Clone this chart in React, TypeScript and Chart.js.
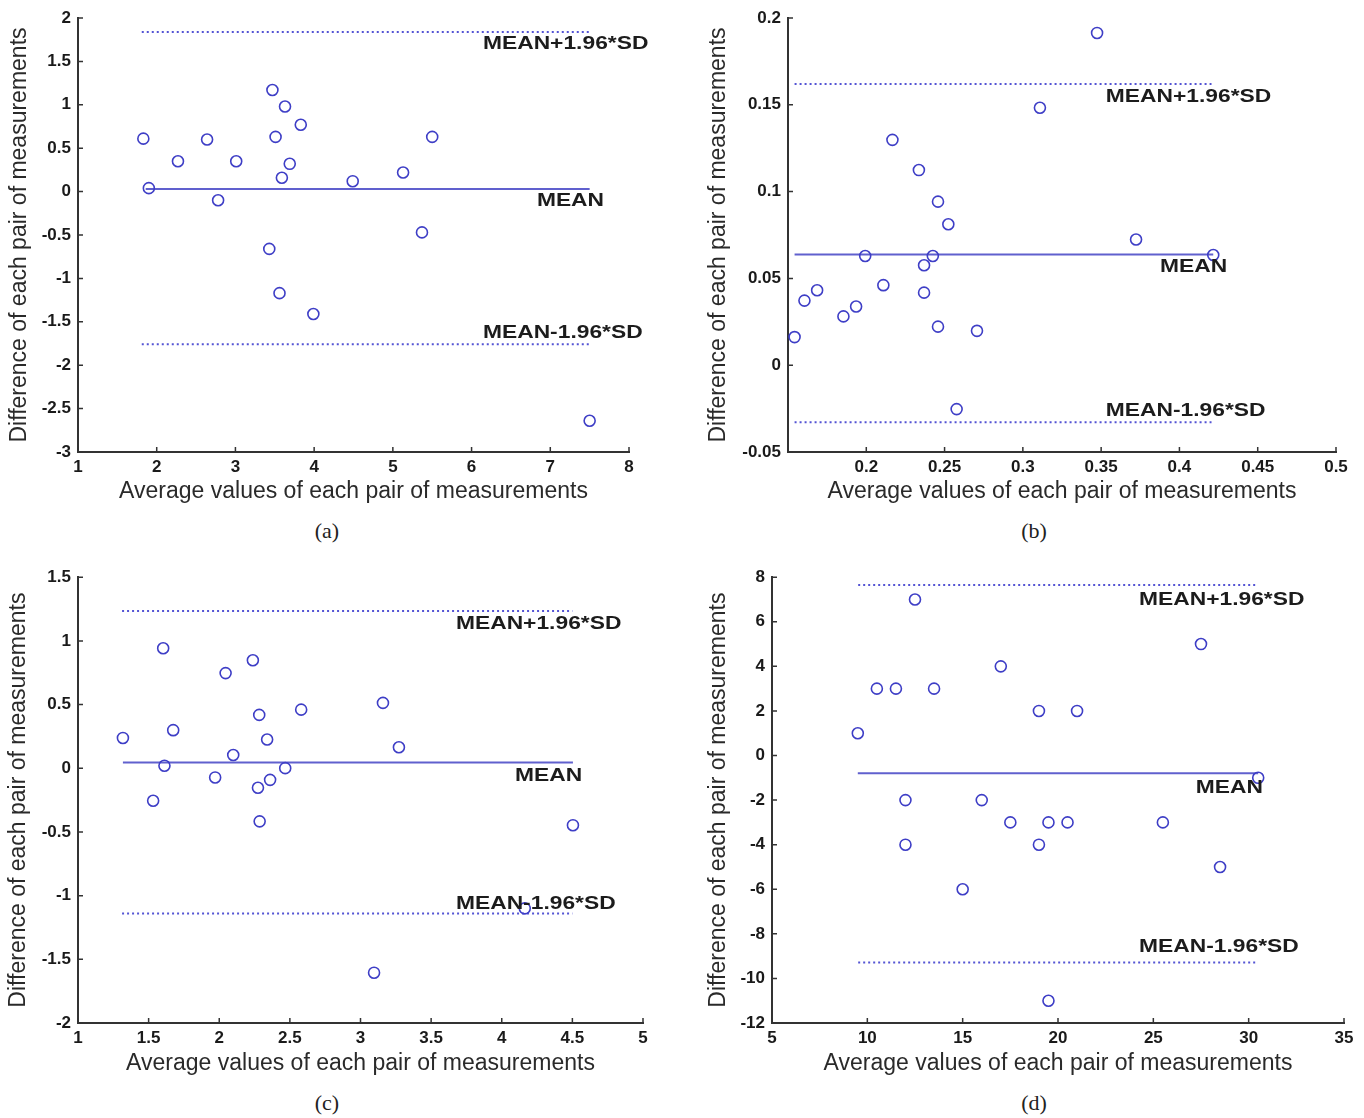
import React, { useEffect, useRef } from "react";
import { Chart, registerables } from "chart.js";

Chart.register(...registerables);

// ---------- shared text ----------
const xTitle = "Average values of each pair of measurements";
const yTitle = "Difference of each pair of measurements";
const limitLabels = ["MEAN+1.96*SD", "MEAN", "MEAN-1.96*SD"];
const captions = ["(a)", "(b)", "(c)", "(d)"];

// ---------- panel (a) ----------
const xA = [1.83, 1.9, 2.27, 2.64, 2.78, 3.01, 3.47, 3.51, 3.43, 3.63, 3.59, 3.69, 3.56, 3.83, 3.99, 4.49, 5.13, 5.37, 5.5, 7.5];
const yA = [0.61, 0.04, 0.35, 0.6, -0.1, 0.35, 1.17, 0.63, -0.66, 0.98, 0.16, 0.32, -1.17, 0.77, -1.41, 0.12, 0.22, -0.47, 0.63, -2.64];
const limitsA = [1.84, 0.03, -1.76]; // upper, mean, lower
const meanSpanA = [1.86, 7.5];
const limitSpanA = [1.81, 7.5];
const xTicksA = [1, 2, 3, 4, 5, 6, 7, 8];
const yTicksA = [-3, -2.5, -2, -1.5, -1, -0.5, 0, 0.5, 1, 1.5, 2];
const anchorsA = [[6.145, 1.7], [6.83, -0.108], [6.145, -1.63]];

// ---------- panel (b) ----------
const xB = [0.1542, 0.1605, 0.1686, 0.1854, 0.1935, 0.1993, 0.2109, 0.2167, 0.2336, 0.2369, 0.2369, 0.2425, 0.2458, 0.2458, 0.2524, 0.2577, 0.2707, 0.3109, 0.3474, 0.3723, 0.4216];
const yB = [0.0162, 0.0372, 0.0432, 0.0281, 0.0338, 0.0629, 0.0461, 0.1298, 0.1124, 0.0576, 0.0418, 0.0629, 0.0942, 0.0222, 0.0812, -0.0253, 0.0198, 0.1483, 0.1914, 0.0724, 0.0635];
const limitsB = [0.162, 0.0637, -0.0328];
const meanSpanB = [0.1542, 0.4216];
const limitSpanB = [0.1542, 0.4205];
const xTicksB = [0.2, 0.25, 0.3, 0.35, 0.4, 0.45, 0.5];
const yTicksB = [-0.05, 0, 0.05, 0.1, 0.15, 0.2];
const anchorsB = [[0.353, 0.1545], [0.3876, 0.0566], [0.353, -0.0264]];

// ---------- panel (c) ----------
const xC = [1.318, 1.532, 1.603, 1.612, 1.674, 1.971, 2.045, 2.099, 2.238, 2.283, 2.274, 2.286, 2.339, 2.36, 2.467, 2.58, 3.096, 3.159, 3.272, 4.163, 4.504];
const yC = [0.238, -0.255, 0.942, 0.02, 0.299, -0.072, 0.747, 0.104, 0.848, 0.419, -0.153, -0.417, 0.226, -0.091, 0.001, 0.46, -1.605, 0.513, 0.165, -1.1, -0.447];
const limitsC = [1.235, 0.045, -1.14];
const meanSpanC = [1.318, 4.504];
const limitSpanC = [1.312, 4.5];
const xTicksC = [1, 1.5, 2, 2.5, 3, 3.5, 4, 4.5, 5];
const yTicksC = [-2, -1.5, -1, -0.5, 0, 0.5, 1, 1.5];
const anchorsC = [[3.676, 1.133], [4.094, -0.058], [3.676, -1.06]];

// ---------- panel (d) ----------
const xD = [9.5, 10.5, 11.5, 12.5, 13.5, 12, 12, 15, 16, 17, 17.5, 19, 19, 19.5, 19.5, 20.5, 21, 25.5, 27.5, 28.5, 30.5];
const yD = [1, 3, 3, 7, 3, -2, -4, -6, -2, 4, -3, 2, -4, -3, -11, -3, 2, -3, 5, -5, -1];
const limitsD = [7.65, -0.8, -9.29];
const meanSpanD = [9.5, 30.5];
const limitSpanD = [9.52, 30.35];
const xTicksD = [5, 10, 15, 20, 25, 30, 35];
const yTicksD = [-12, -10, -8, -6, -4, -2, 0, 2, 4, 6, 8];
const anchorsD = [[24.25, 6.97], [27.23, -1.46], [24.25, -8.59]];

// ---------- styles ----------
const MARKER = "rgb(62,62,198)";
const MEAN_COLOR = "rgb(96,96,206)";
const LIMIT_COLOR = "rgb(84,84,212)";
const AXIS_COLOR = "#333333";
const SANS = '"Liberation Sans", Arial, Helvetica, sans-serif';

const fmt = (v: number) => String(Math.round(v * 1000) / 1000);

type Box = { left: number; top: number; width: number; height: number; padL: number; padT: number; padR: number; yW: number; xH: number };

type PanelDef = {
  xs: number[];
  ys: number[];
  limits: number[];
  meanSpan: number[];
  limitSpan: number[];
  xTicks: number[];
  yTicks: number[];
  xMin: number;
  xMax: number;
  anchors: number[][];
  box: Box;
};

const panels: PanelDef[] = [
  { xs: xA, ys: yA, limits: limitsA, meanSpan: meanSpanA, limitSpan: limitSpanA, xTicks: xTicksA, yTicks: yTicksA, xMin: 1, xMax: 8, anchors: anchorsA,
    box: { left: 0, top: 0, width: 670, height: 505, padL: 6, padT: 18, padR: 41, yW: 72, xH: 53 } },
  { xs: xB, ys: yB, limits: limitsB, meanSpan: meanSpanB, limitSpan: limitSpanB, xTicks: xTicksB, yTicks: yTicksB, xMin: 0.15, xMax: 0.5, anchors: anchorsB,
    box: { left: 690, top: 0, width: 674, height: 505, padL: 15, padT: 18, padR: 28, yW: 83, xH: 53 } },
  { xs: xC, ys: yC, limits: limitsC, meanSpan: meanSpanC, limitSpan: limitSpanC, xTicks: xTicksC, yTicks: yTicksC, xMin: 1, xMax: 5, anchors: anchorsC,
    box: { left: 0, top: 560, width: 670, height: 517, padL: 5, padT: 16, padR: 27, yW: 73, xH: 54 } },
  { xs: xD, ys: yD, limits: limitsD, meanSpan: meanSpanD, limitSpan: limitSpanD, xTicks: xTicksD, yTicks: yTicksD, xMin: 5, xMax: 35, anchors: anchorsD,
    box: { left: 690, top: 560, width: 674, height: 517, padL: 15, padT: 17, padR: 20, yW: 67, xH: 54 } },
];

const overlayPlugin = (anchors: number[][]) => ({
  id: "overlay",
  afterDatasetsDraw(chart: any) {
    const { ctx, chartArea, scales } = chart;
    const xs = scales.x;
    const ys = scales.y;
    ctx.save();
    // inward tick marks
    ctx.strokeStyle = AXIS_COLOR;
    ctx.lineWidth = 1.5;
    ctx.beginPath();
    xs.ticks.forEach((t: any) => {
      const px = xs.getPixelForValue(t.value);
      ctx.moveTo(px, chartArea.bottom);
      ctx.lineTo(px, chartArea.bottom - 5);
    });
    ys.ticks.forEach((t: any) => {
      const py = ys.getPixelForValue(t.value);
      ctx.moveTo(chartArea.left, py);
      ctx.lineTo(chartArea.left + 5, py);
    });
    ctx.stroke();
    // limit labels
    ctx.fillStyle = "#1c1c1c";
    ctx.font = `bold 19px ${SANS}`;
    ctx.textBaseline = "middle";
    ctx.textAlign = "left";
    anchors.forEach((a, i) => {
      const px = xs.getPixelForValue(a[0]);
      const py = ys.getPixelForValue(a[1]);
      ctx.save();
      ctx.translate(px, py);
      ctx.scale(1.2, 1);
      ctx.fillText(limitLabels[i], 0, 0);
      ctx.restore();
    });
    ctx.restore();
  },
});

function Panel({ def }: { def: PanelDef }) {
  const ref = useRef<HTMLCanvasElement | null>(null);
  useEffect(() => {
    if (!ref.current) return;
    const b = def.box;
    const tickFont = { family: SANS, size: 17, weight: "bold" as const };
    const titleFont = { family: SANS, size: 23, weight: "normal" as const };
    const chart = new Chart(ref.current, {
      type: "scatter",
      data: {
        datasets: [
          {
            data: def.xs.map((x, i) => ({ x, y: def.ys[i] })),
            pointStyle: "circle",
            pointRadius: 5.5,
            pointBorderWidth: 1.6,
            pointBorderColor: MARKER,
            pointBackgroundColor: "rgba(0,0,0,0)",
            showLine: false,
          },
          {
            data: def.meanSpan.map((x) => ({ x, y: def.limits[1] })),
            showLine: true,
            pointRadius: 0,
            borderColor: MEAN_COLOR,
            borderWidth: 2,
          },
          {
            data: def.limitSpan.map((x) => ({ x, y: def.limits[0] })),
            showLine: true,
            pointRadius: 0,
            borderColor: LIMIT_COLOR,
            borderWidth: 2,
            borderDash: [2, 3],
          },
          {
            data: def.limitSpan.map((x) => ({ x, y: def.limits[2] })),
            showLine: true,
            pointRadius: 0,
            borderColor: LIMIT_COLOR,
            borderWidth: 2,
            borderDash: [2, 3],
          },
        ],
      } as any,
      options: {
        responsive: false,
        maintainAspectRatio: false,
        animation: false,
        events: [],
        layout: { padding: { left: b.padL, top: b.padT, right: b.padR, bottom: 0 } },
        plugins: { legend: { display: false }, tooltip: { enabled: false } },
        scales: {
          x: {
            type: "linear",
            min: def.xMin,
            max: def.xMax,
            afterBuildTicks: (s: any) => {
              s.ticks = def.xTicks.map((v) => ({ value: v }));
            },
            afterFit: (s: any) => {
              s.height = b.xH;
            },
            grid: { display: false, drawTicks: false },
            border: { display: true, color: AXIS_COLOR, width: 2 },
            ticks: { font: tickFont, color: "#1a1a1a", padding: 5, autoSkip: false, maxRotation: 0, callback: (v: any) => fmt(Number(v)) },
            title: { display: true, text: xTitle, font: titleFont, color: "#2a2a2a", padding: { top: 0, bottom: 0 } },
          },
          y: {
            type: "linear",
            min: def.yTicks[0],
            max: def.yTicks[def.yTicks.length - 1],
            afterBuildTicks: (s: any) => {
              s.ticks = def.yTicks.map((v) => ({ value: v }));
            },
            afterFit: (s: any) => {
              s.width = b.yW;
            },
            grid: { display: false, drawTicks: false },
            border: { display: true, color: AXIS_COLOR, width: 2 },
            ticks: { font: tickFont, color: "#1a1a1a", padding: 7, autoSkip: false, callback: (v: any) => fmt(Number(v)) },
            title: { display: true, text: yTitle, font: titleFont, color: "#2a2a2a", padding: { top: 0, bottom: 0 } },
          },
        },
      } as any,
      plugins: [overlayPlugin(def.anchors)],
    });
    return () => chart.destroy();
  }, [def]);
  const b = def.box;
  return (
    <canvas
      ref={ref}
      width={b.width}
      height={b.height}
      style={{ position: "absolute", left: b.left, top: b.top, width: b.width, height: b.height }}
    />
  );
}

const captionPos = [
  { x: 327, y: 531 },
  { x: 1034, y: 531 },
  { x: 327, y: 1103 },
  { x: 1034, y: 1103 },
];

export default function App() {
  return (
    <div style={{ position: "absolute", left: 0, top: 0, width: 1364, height: 1118, background: "#ffffff", overflow: "hidden" }}>
      {panels.map((p, i) => (
        <Panel key={i} def={p} />
      ))}
      {captions.map((c, i) => (
        <div
          key={c}
          style={{
            position: "absolute",
            left: captionPos[i].x - 40,
            top: captionPos[i].y - 13,
            width: 80,
            height: 26,
            lineHeight: "26px",
            textAlign: "center",
            fontFamily: '"Liberation Serif", "Times New Roman", serif',
            fontSize: 22,
            color: "#222",
          }}
        >
          {c}
        </div>
      ))}
    </div>
  );
}
